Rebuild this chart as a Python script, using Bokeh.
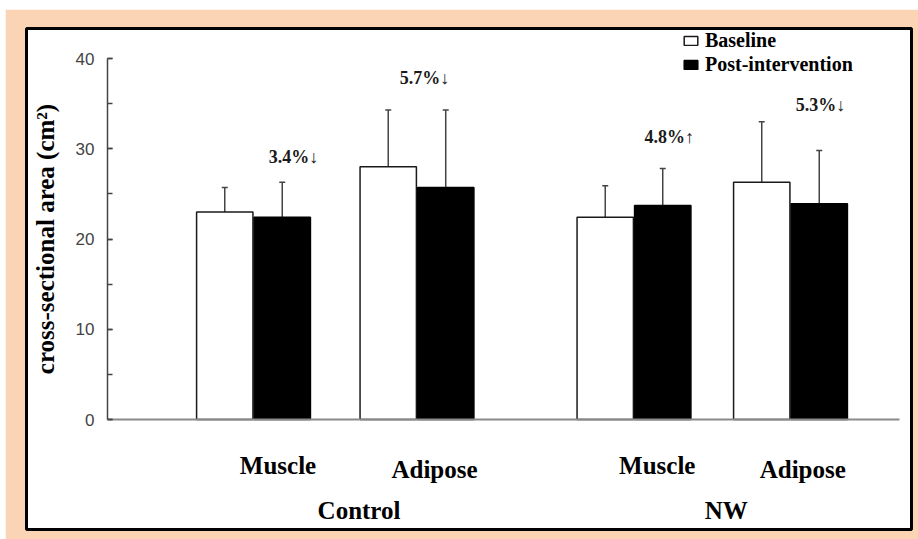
from bokeh.plotting import figure
from bokeh.models import (Range1d, LinearAxis, SingleIntervalTicker, FixedTicker,
                          Whisker, TeeHead, ColumnDataSource, Legend, LegendItem)
from bokeh.core.properties import value
from bokeh.embed import file_html
from bokeh.resources import INLINE

# ---------------- data ----------------
groups = ["Control", "NW"]
tissues = ["Muscle", "Adipose", "Muscle", "Adipose"]
baseline = [23.0, 28.0, 22.4, 26.3]
baseline_sd = [2.7, 6.3, 3.5, 6.7]
post = [22.4, 25.7, 23.7, 23.9]
post_sd = [3.9, 8.6, 4.1, 5.9]
changes = ["3.4%\u2193", "5.7%\u2193", "4.8%\u2191", "5.3%\u2193"]
y_tick_step = 10
y_max = 40

# ---------------- layout constants ----------------
W, H = 913, 530
ML, MR, MT, MB = 21, 7, 19, 10
FW, FH = W - ML - MR, H - MT - MB
PX_X = 57.5          # pixels per x unit (one bar width)
PX_Y = 9.025         # pixels per y unit
Y0_FROM_TOP = 391    # pixels from frame top to y = 0
x_end = FW / PX_X
y_top = Y0_FROM_TOP / PX_Y
y_bot = -(FH - Y0_FROM_TOP) / PX_Y

axis_x = 1.409
base_end = 15.183
pair_x = [3.948, 6.791, 10.565, 13.287]
tissue_lx = [4.374, 7.096, 10.97, 13.5]
tissue_ly = [-5.12, -5.57, -5.12, -5.57]
group_lx = [5.783, 12.17]
group_ly = [-10.1, -10.1]
change_x = [4.643, 6.92, 11.18, 13.81]
change_y = [29.1, 37.85, 31.3, 34.9]

PEACH = "#FAD4B4"
SERIF = "Liberation Serif"

p = figure(width=W, height=H, x_range=Range1d(0, x_end), y_range=Range1d(y_bot, y_top),
           x_axis_type=None, y_axis_type=None, output_backend="svg", toolbar_location=None,
           min_border_left=ML, min_border_right=MR, min_border_top=MT, min_border_bottom=MB)
p.margin = (9, 0, 0, 5)
p.border_fill_color = PEACH
p.background_fill_color = "white"
p.outline_line_color = "black"
p.outline_line_width = 3

# ---------------- bars ----------------
src_b = ColumnDataSource(dict(x=[c - 0.5 for c in pair_x], top=baseline,
                              upper=[m + s for m, s in zip(baseline, baseline_sd)]))
src_p = ColumnDataSource(dict(x=[c + 0.5 for c in pair_x], top=post,
                              upper=[m + s for m, s in zip(post, post_sd)]))
r_base = p.vbar(x="x", top="top", bottom=0, width=0.98, source=src_b,
                fill_color="white", line_color="#1a1a1a", line_width=1.5)
r_post = p.vbar(x="x", top="top", bottom=0, width=0.98, source=src_p,
                fill_color="black", line_color="black", line_width=1.5)

for src in (src_b, src_p):
    w = Whisker(base="x", lower="top", upper="upper", source=src, dimension="height",
                line_color="#444444", line_width=1.5, lower_head=None,
                upper_head=TeeHead(size=6, line_color="#444444", line_width=1.5))
    p.add_layout(w)

# ---------------- axes ----------------
yaxis = LinearAxis(fixed_location=axis_x, bounds=(0, y_max),
                   ticker=SingleIntervalTicker(interval=y_tick_step, num_minor_ticks=2),
                   axis_label="cross-sectional area (cm\u00b2)",
                   axis_label_text_font=SERIF, axis_label_text_font_style="bold",
                   axis_label_text_font_size="25px", axis_label_text_color="black",
                   axis_label_standoff=14,
                   major_label_text_font="Liberation Sans", major_label_text_font_size="17px",
                   major_label_text_color="#444444", major_label_standoff=13,
                   axis_line_color="#444444", axis_line_width=1.5,
                   major_tick_in=5, major_tick_out=0, minor_tick_in=5, minor_tick_out=0,
                   major_tick_line_color="#444444", minor_tick_line_color="#444444",
                   major_tick_line_width=1.5, minor_tick_line_width=1.5)
p.add_layout(yaxis, "left")

xaxis = LinearAxis(fixed_location=0, bounds=(axis_x, base_end), ticker=FixedTicker(ticks=[]),
                   major_label_text_font_size="0px", major_tick_in=0, major_tick_out=0,
                   minor_tick_in=0, minor_tick_out=0,
                   axis_line_color="#8a8a8a", axis_line_width=2)
p.add_layout(xaxis, "below")

# ---------------- texts ----------------
p.text(x=tissue_lx, y=tissue_ly, text=tissues, text_font=value(SERIF), text_font_style="bold",
       text_font_size="25px", text_align="center", text_baseline="alphabetic", text_color="black")
p.text(x=group_lx, y=group_ly, text=groups, text_font=value(SERIF), text_font_style="bold",
       text_font_size="25px", text_align="center", text_baseline="alphabetic", text_color="black")
p.text(x=change_x, y=change_y, text=changes, text_font=value(SERIF), text_font_style="bold",
       text_font_size="18px", text_align="center", text_baseline="alphabetic", text_color="#1a1a1a")

# ---------------- legend ----------------
legend = Legend(items=[LegendItem(label="Baseline", renderers=[r_base]),
                       LegendItem(label="Post-intervention", renderers=[r_post])],
                location=(656, 453), padding=0, margin=0, spacing=1,
                glyph_width=17, glyph_height=11, label_standoff=6, label_height=22,
                label_text_font=SERIF, label_text_font_style="bold", label_text_font_size="20px",
                label_text_color="black", border_line_alpha=0, background_fill_alpha=0)
p.add_layout(legend)

open("out.html", "w").write(file_html(p, INLINE))
